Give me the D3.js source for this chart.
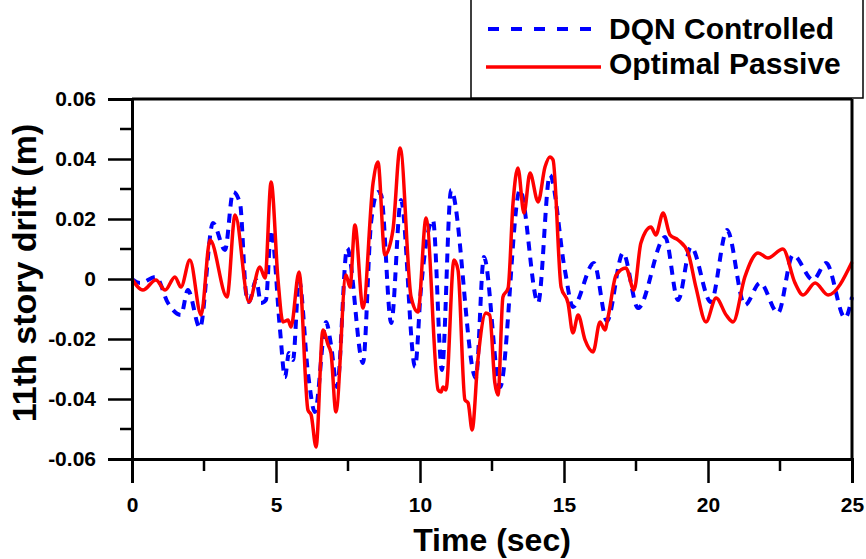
<!DOCTYPE html>
<html><head><meta charset="utf-8">
<script src="https://cdn.jsdelivr.net/npm/d3@7/dist/d3.min.js"></script>
<style>body{margin:0;background:#fff}svg{display:block}text{font-family:"Liberation Sans",Arial,sans-serif;font-weight:bold;fill:#000}</style>
</head><body><svg id="c" width="866" height="559"></svg>
<script>
const seriesNames = ["DQN Controlled", "Optimal Passive"];
const xTicks = [0, 5, 10, 15, 20, 25];
const yTicks = [-0.06, -0.04, -0.02, 0, 0.02, 0.04, 0.06];
const yTickLabels = ["-0.06", "-0.04", "-0.02", "0", "0.02", "0.04", "0.06"];
const xTitle = "Time (sec)";
const yTitle = "11th story drift (m)";

const passiveT = [0,0.38,0.83,1.15,1.49,1.70,2.01,2.40,2.71,3.30,3.58,4.06,4.44,4.62,4.83,5.07,5.24,5.42,5.52,5.80,6.11,6.22,6.39,6.63,6.81,6.91,7.08,7.43,7.57,7.74,8.02,8.37,8.54,8.78,9.06,9.31,9.69,9.93,10.21,10.63,10.73,10.80,10.90,11.18,11.32,11.56,11.67,11.81,12.01,12.29,12.42,12.60,12.71,12.88,13.06,13.23,13.40,13.61,13.82,14.10,14.34,14.51,14.62,14.90,15.14,15.31,15.49,15.73,16.01,16.25,16.42,16.53,16.81,17.15,17.43,17.67,18.02,18.19,18.44,18.68,18.96,19.31,19.58,19.93,20.28,20.63,20.87,21.28,21.74,22.08,22.60,23.02,23.30,23.72,24.17,25];
const passiveV = [0,-0.0037,-0.0003,-0.0037,0.0007,-0.0027,0.0063,-0.012,0.013,-0.006,0.0213,-0.0077,0.004,0.0003,0.0323,-0.0003,-0.0143,-0.0137,-0.016,0.0023,-0.0437,-0.0453,-0.056,-0.017,-0.022,-0.0247,-0.0443,0.0013,-0.0027,0.018,-0.0097,0.032,0.039,0.008,0.0163,0.0437,-0.006,-0.011,0.0203,-0.037,-0.0377,-0.036,-0.037,0.0063,0.003,-0.0403,-0.0413,-0.0503,-0.027,-0.0113,-0.012,-0.0347,-0.0387,-0.006,-0.003,0.0253,0.037,0.022,0.0353,0.0257,0.0373,0.0407,0.0397,-0.0027,-0.008,-0.018,-0.012,-0.0203,-0.0243,-0.0143,-0.017,-0.0127,0.0013,0.0037,-0.0037,0.012,0.0173,0.0147,0.022,0.0147,0.013,0.0087,-0.0027,-0.0143,-0.0063,-0.012,-0.0143,0.0007,0.0087,0.007,0.01,-0.0013,-0.0053,-0.0013,-0.0053,0.0057];

const dqnT = [0,0.28,0.83,1.25,1.70,1.94,2.36,2.81,3.23,3.51,3.75,3.96,4.06,4.31,4.48,4.65,4.83,5.14,5.31,5.45,5.59,5.80,6.11,6.35,6.74,6.91,7.12,7.47,8.02,8.30,8.54,8.65,9.0,9.34,9.83,10.03,10.45,10.76,11.08,11.94,12.22,12.78,13.47,14.10,14.51,15.03,15.31,16.04,16.49,17.05,17.57,18.51,18.96,19.41,20.10,20.66,21.28,21.81,22.43,22.95,23.65,24.10,24.76,25];
const dqnV = [0,-0.0013,0.0007,-0.008,-0.012,-0.0037,-0.0163,0.0187,0.0097,0.029,0.0253,-0.0047,-0.0077,-0.0003,-0.008,-0.007,0.0163,-0.017,-0.0327,-0.0247,-0.027,-0.0003,-0.0313,-0.0443,-0.0143,-0.022,-0.036,0.0103,-0.028,0.0187,0.029,0.028,-0.0147,0.0263,-0.0293,-0.0037,0.0197,-0.0303,0.0297,-0.033,0.0073,-0.036,0.0297,-0.008,0.0347,0.003,-0.0093,0.0053,-0.014,0.0087,-0.0097,0.014,-0.007,0.0107,-0.0077,0.0163,-0.0087,-0.0013,-0.0113,0.008,-0.0003,0.0053,-0.013,-0.006];

const svg = d3.select("#c");
const x = d3.scaleLinear().domain([0, 25]).range([132, 852]);
const y = d3.scaleLinear().domain([-0.06, 0.06]).range([459, 99]);

// lines
const line = d3.line().x(d => x(d[0])).y(d => y(d[1])).curve(d3.curveMonotoneX);
const dqn = dqnT.map((t, i) => [t, dqnV[i]]);
const pas = passiveT.map((t, i) => [t, passiveV[i]]);
svg.append("path").attr("d", line(dqn)).attr("fill", "none").attr("stroke", "#0000ff")
  .attr("stroke-width", 4).attr("stroke-dasharray", "9,7");
svg.append("path").attr("d", line(pas)).attr("fill", "none").attr("stroke", "#ff0000")
  .attr("stroke-width", 3.5).attr("stroke-linejoin", "round");

// frame top/right
svg.append("line").attr("x1", x(0)).attr("x2", x(25)).attr("y1", y(0.06)).attr("y2", y(0.06)).attr("stroke", "#000").attr("stroke-width", 3);
svg.append("line").attr("x1", x(25)).attr("x2", x(25)).attr("y1", y(0.06)).attr("y2", y(-0.06)).attr("stroke", "#000").attr("stroke-width", 3);

// axes
const yAxis = d3.axisLeft(y).tickValues(yTicks).tickSize(24).tickPadding(12)
  .tickFormat((d, i) => yTickLabels[i]);
const gy = svg.append("g").attr("transform", `translate(${x(0)},0)`).call(yAxis);
const yMinor = d3.range(-0.05, 0.06, 0.02);
gy.selectAll(".minor").data(yMinor).enter().append("line").attr("class", "minor")
  .attr("x1", -12).attr("x2", 0).attr("y1", d => y(d)).attr("y2", d => y(d))
  .attr("stroke", "#000").attr("stroke-width", 2.5);

const xAxis = d3.axisBottom(x).tickValues(xTicks).tickSize(24).tickPadding(14).tickFormat(d3.format("d"));
const gx = svg.append("g").attr("transform", `translate(0,${y(-0.06)})`).call(xAxis);
const xMinor = [2.5, 7.5, 12.5, 17.5, 22.5];
gx.selectAll(".minor").data(xMinor).enter().append("line").attr("class", "minor")
  .attr("x1", d => x(d)).attr("x2", d => x(d)).attr("y1", 0).attr("y2", 12)
  .attr("stroke", "#000").attr("stroke-width", 2.5);

[gx, gy].forEach(g => {
  g.select(".domain").attr("stroke", "#000").attr("stroke-width", 3);
  g.selectAll(".tick line").attr("stroke", "#000").attr("stroke-width", 2.5);
  g.selectAll(".tick text").attr("font-size", 21).attr("font-family", '"Liberation Sans",Arial,sans-serif').attr("font-weight", "bold").attr("fill", "#000");
});

// titles
svg.append("text").attr("x", 492).attr("y", 551).attr("text-anchor", "middle")
  .attr("font-size", 32).text(xTitle);
svg.append("text").attr("transform", "translate(36,273) rotate(-90)").attr("text-anchor", "middle")
  .attr("font-size", 34).text(yTitle);

// legend
svg.append("rect").attr("x", 471).attr("y", -2).attr("width", 392).attr("height", 100)
  .attr("fill", "#fff").attr("stroke", "#000").attr("stroke-width", 1.5);
svg.append("line").attr("x1", 488).attr("x2", 600).attr("y1", 29).attr("y2", 29)
  .attr("stroke", "#0000ff").attr("stroke-width", 4).attr("stroke-dasharray", "11,12");
svg.append("line").attr("x1", 486).attr("x2", 601).attr("y1", 67).attr("y2", 67)
  .attr("stroke", "#ff0000").attr("stroke-width", 3.5);
svg.append("text").attr("x", 609).attr("y", 39).attr("font-size", 30).text(seriesNames[0]);
svg.append("text").attr("x", 609).attr("y", 74).attr("font-size", 30).text(seriesNames[1]);
</script></body></html>
